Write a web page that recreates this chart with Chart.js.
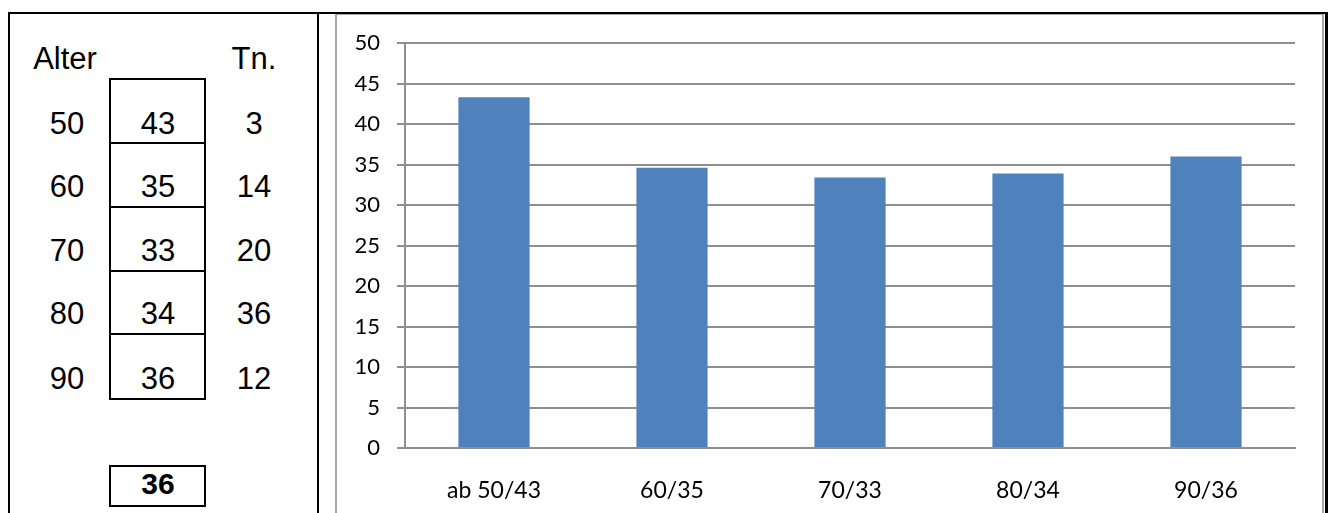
<!DOCTYPE html>
<html lang="de">
<head>
<meta charset="utf-8">
<title>Durchschnitt nach Altersgruppe</title>
<script src="https://cdn.jsdelivr.net/npm/chart.js@4/dist/chart.umd.min.js"></script>
<style>
  html, body { margin: 0; padding: 0; background: #fff; }
  body { width: 1332px; height: 513px; position: relative; overflow: hidden;
         font-family: "Liberation Sans", Arial, sans-serif; color: #000; }
  .line { position: absolute; background: #000; }
  .gray { position: absolute; background: #a6a6a6; }
  .cell { position: absolute; font-size: 31px; line-height: 31px; text-align: center; }
  .box  { position: absolute; border: 2px solid #000; box-sizing: border-box; }
  #chartWrap { position: absolute; left: 337px; top: 15px; width: 985px; height: 498px; }
</style>
</head>
<body>
<!-- frame -->
<div class="line" style="left:8px;top:12px;width:1320px;height:2px"></div>
<div class="line" style="left:8px;top:12px;width:2px;height:501px"></div>
<div class="line" style="left:317px;top:12px;width:2px;height:501px"></div>
<div class="line" style="left:1325px;top:12px;width:3px;height:501px"></div>
<div class="gray" style="left:335px;top:14px;width:989px;height:1px"></div>
<div class="gray" style="left:335px;top:14px;width:2px;height:499px"></div>
<div class="gray" style="left:1322px;top:14px;width:2px;height:499px"></div>

<div id="table"></div>
<div id="chartWrap"><canvas id="chart"></canvas></div>

<script>
// age groups, average per group, participants per group
const ages = [50, 60, 70, 80, 90];
const averages = [43.3, 34.6, 33.4, 33.9, 36.0];
const participants = [3, 14, 20, 36, 12];
const overallAverage = 36;
const yTicks = [0, 5, 10, 15, 20, 25, 30, 35, 40, 45, 50];

const categoryLabels = ages.map((a, i) =>
  (i === 0 ? 'ab ' : '') + a + '/' + Math.round(averages[i]));

// left-hand table
const table = document.getElementById('table');
function addText(txt, cx, baseline, extra) {
  const d = document.createElement('div');
  d.className = 'cell';
  d.textContent = txt;
  d.style.left = (cx - 60) + 'px';
  d.style.width = '120px';
  d.style.top = (baseline - 27) + 'px';
  if (extra) Object.assign(d.style, extra);
  table.appendChild(d);
}
addText('Alter', 65, 70);
addText('Tn.', 254, 70);
const rowTops = [78, 142, 206, 270, 333, 398];
const baselines = [135, 198, 262, 325, 390];
for (let i = 0; i < ages.length; i++) {
  const b = document.createElement('div');
  b.className = 'box';
  b.style.left = '109px';
  b.style.width = '97px';
  b.style.top = rowTops[i] + 'px';
  b.style.height = (rowTops[i + 1] - rowTops[i] + 2) + 'px';
  table.appendChild(b);
  addText(String(ages[i]), 67, baselines[i]);
  addText(String(Math.round(averages[i])), 158, baselines[i]);
  addText(String(participants[i]), 254, baselines[i]);
}
const tb = document.createElement('div');
tb.className = 'box';
Object.assign(tb.style, { left: '109px', width: '97px', top: '465px', height: '42px' });
table.appendChild(tb);
addText(String(overallAverage), 158, 495, { fontWeight: 'bold', fontSize: '30px' });

// bar chart
const gridColor = '#8f8f8f';
new Chart(document.getElementById('chart'), {
  type: 'bar',
  data: {
    labels: categoryLabels,
    datasets: [{
      data: averages,
      backgroundColor: '#4f81bd',
      borderWidth: 0,
      categoryPercentage: 1.0,
      barPercentage: 0.4
    }]
  },
  options: {
    responsive: true,
    maintainAspectRatio: false,
    animation: false,
    layout: { padding: { top: 28, right: 27, left: 0, bottom: 0 } },
    plugins: { legend: { display: false }, tooltip: { enabled: false } },
    scales: {
      x: {
        grid: { display: false, drawTicks: false },
        border: { display: true, color: gridColor, width: 2 },
        ticks: {
          color: '#000', padding: 29, maxRotation: 0,
          font: { family: 'Lato', size: 23 }
        },
        afterFit(scale) { scale.height = 65; }
      },
      y: {
        min: 0, max: 50,
        afterBuildTicks(scale) { scale.ticks = yTicks.map(v => ({ value: v })); },
        grid: { color: gridColor, lineWidth: 2, drawTicks: true, tickLength: 8 },
        border: { display: true, color: gridColor, width: 2 },
        ticks: {
          color: '#000', padding: 17,
          font: { family: 'Lato', size: 22 }
        },
        afterFit(scale) {
          scale.width = 68;
          // keep the plot top fixed by the layout padding alone
          scale.paddingTop = 0;
          scale.paddingBottom = 0;
        }
      }
    }
  }
});
</script>
</body>
</html>
